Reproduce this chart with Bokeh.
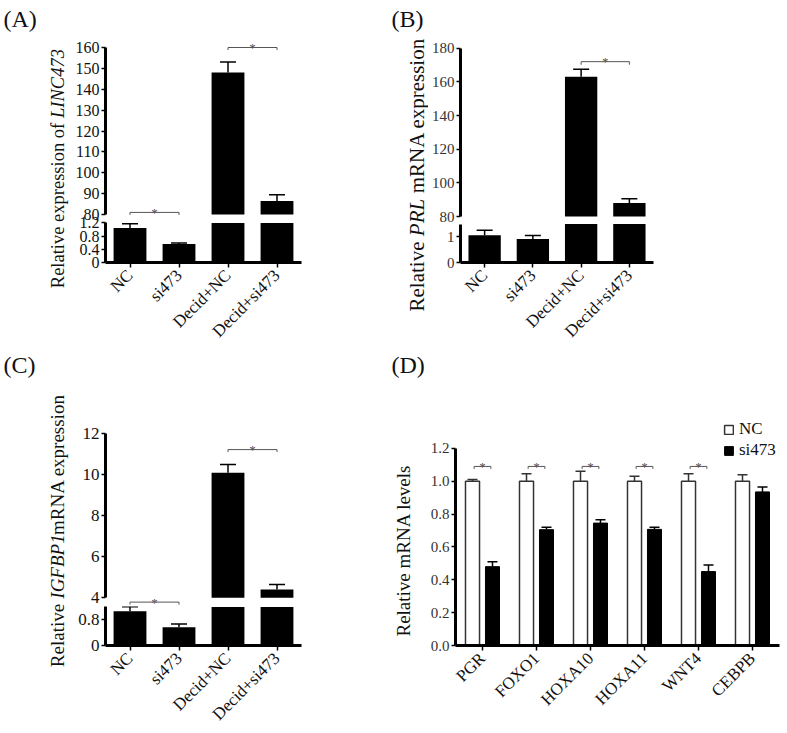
import math
from bokeh.plotting import figure
from bokeh.models import (ColumnDataSource, FactorRange, Range1d, FixedTicker, Whisker,
                          TeeHead, Legend, LegendItem, NumeralTickFormatter)
from bokeh.layouts import row, column
from bokeh.transform import dodge
from bokeh.core.properties import value
from bokeh.embed import file_html
from bokeh.resources import INLINE

SERIF = "Liberation Serif"
INK = "#111111"
SIGC = "#555555"

# ---------------- data ----------------
groups = ["NC", "si473", "Decid+NC", "Decid+si473"]

a_mean = [1.05, 0.56, 148.0, 86.5]
a_err = [0.13, 0.03, 5.0, 3.0]
a_lower_ticks = [0, 0.4, 0.8, 1.2]
a_lower_top = 1.2
a_upper_ticks = [80, 90, 100, 110, 120, 130, 140, 150, 160]
a_sig_left = ["NC", "Decid+NC"]
a_sig_right = ["si473", "Decid+si473"]
a_sig_y = [81.0, 160.0]

b_mean = [1.06, 0.92, 163.0, 88.0]
b_err = [0.20, 0.13, 4.5, 2.6]
b_lower_ticks = [0, 1]
b_lower_top = 1.5
b_upper_ticks = [80, 100, 120, 140, 160, 180]
b_sig_left = ["Decid+NC"]
b_sig_right = ["Decid+si473"]
b_sig_y = [172.0]

c_mean = [1.07, 0.57, 10.1, 4.4]
c_err = [0.14, 0.10, 0.4, 0.25]
c_lower_ticks = [0, 0.8]
c_lower_top = 1.2
c_upper_ticks = [4, 6, 8, 10, 12]
c_sig_left = ["NC", "Decid+NC"]
c_sig_right = ["si473", "Decid+si473"]
c_sig_y = [3.79, 11.23]

genes = ["PGR", "FOXO1", "HOXA10", "HOXA11", "WNT4", "CEBPB"]
d_nc = [1.0, 1.0, 1.0, 1.0, 1.0, 1.0]
d_nc_err = [0.01, 0.045, 0.06, 0.03, 0.045, 0.04]
d_si = [0.48, 0.705, 0.745, 0.707, 0.45, 0.935]
d_si_err = [0.03, 0.015, 0.02, 0.013, 0.04, 0.03]
d_ticks = [0.0, 0.2, 0.4, 0.6, 0.8, 1.0, 1.2]
d_sig_genes = ["PGR", "FOXO1", "HOXA10", "HOXA11", "WNT4"]
d_sig_y = [1.09, 1.09, 1.09, 1.09, 1.09]


# ---------------- helpers ----------------
def mkfig(xr, yr, w, h, bl, br, bt, bb, xaxis):
    p = figure(x_range=xr, y_range=yr, width=w, height=h, toolbar_location=None,
               output_backend="svg", min_border_left=bl, min_border_right=br,
               min_border_top=bt, min_border_bottom=bb,
               x_axis_location="below" if xaxis else None, title=None)
    p.grid.visible = False
    p.outline_line_color = None
    return p


def span(v1, p1, v2, p2, top_px, bot_px):
    """range (lo, hi) placing value v1 at pixel p1 and v2 at p2 for a frame top_px..bot_px"""
    k = (p1 - p2) / (v2 - v1)
    return (v1 - (bot_px - p1) / k, v1 + (p1 - top_px) / k)


def style_y(axis, ticks, bounds, size, color, overrides=None, fmt=None):
    axis.ticker = FixedTicker(ticks=ticks, minor_ticks=[])
    axis.bounds = bounds
    axis.axis_line_width = 3
    axis.axis_line_color = "black"
    axis.major_tick_line_width = 1.5
    axis.major_tick_line_color = "black"
    axis.major_tick_out = 4
    axis.major_tick_in = 0
    axis.minor_tick_line_color = None
    axis.major_label_text_font = SERIF
    axis.major_label_text_font_size = f"{size}px"
    axis.major_label_text_color = color
    axis.major_label_standoff = 2
    if overrides:
        axis.major_label_overrides = overrides
    if fmt is not None:
        axis.formatter = fmt


def style_x(axis, size, color):
    axis.axis_line_width = 3
    axis.axis_line_color = "black"
    axis.major_tick_line_width = 1.5
    axis.major_tick_out = 5
    axis.major_tick_in = 0
    axis.minor_tick_line_color = None
    axis.major_label_orientation = math.pi / 4
    axis.major_label_text_font = SERIF
    axis.major_label_text_font_size = f"{size}px"
    axis.major_label_text_color = color
    axis.major_label_standoff = 5


def broken_panel(means, errs, lower_top, lower_ticks, upper_ticks, sig_l, sig_r, sig_y,
                 sig_drop, geo, tick_size, tick_color, xlab_size, cap):
    # geo (page pixels): canvas top, upper canvas bottom, lower canvas top, canvas bottom,
    # upper frame top/bottom, lower frame top/bottom, pixel anchors of the tick ends
    (w, bl, br, c_top, up_cb, lo_ct, c_bot, uf_t, uf_b, lf_t, lf_b, lo_px, up_px) = geo
    xr = FactorRange(*groups)
    upper_lo = upper_ticks[0]
    up = mkfig(xr, Range1d(*span(upper_lo, up_px[0], upper_ticks[-1], up_px[1], uf_t, uf_b)),
               w, up_cb - c_top, bl, br, uf_t - c_top, up_cb - uf_b, False)
    lo = mkfig(xr, Range1d(*span(0, lo_px[0], lower_ticks[-1], lo_px[1], lf_t, lf_b)),
               w, c_bot - lo_ct, bl, br, lf_t - lo_ct, c_bot - lf_b, True)
    lo.margin = (lo_ct - up_cb, 0, 0, 0)        # overlap the two canvases at the break
    for f in (up, lo):
        f.border_fill_alpha = 0
        f.background_fill_alpha = 0

    # lower segment: every bar, cut at the break
    lo_src = ColumnDataSource(dict(g=groups, top=[min(m, lower_top) for m in means]))
    lo.vbar(x="g", top="top", bottom=0, width=0.67, source=lo_src,
            fill_color="black", line_color=None)
    lw = [i for i in range(len(groups)) if means[i] <= lower_top]
    lw_src = ColumnDataSource(dict(g=[groups[i] for i in lw], m=[means[i] for i in lw],
                                   u=[means[i] + errs[i] for i in lw]))
    lo.add_layout(Whisker(source=lw_src, base="g", lower="m", upper="u", dimension="height",
                          line_width=1.5, line_color="black",
                          upper_head=TeeHead(size=cap, line_width=1.5, line_color="black"),
                          lower_head=None))

    # upper segment
    ui = [i for i in range(len(groups)) if means[i] > upper_lo]
    up_src = ColumnDataSource(dict(g=[groups[i] for i in ui], m=[means[i] for i in ui],
                                   u=[means[i] + errs[i] for i in ui]))
    up.vbar(x="g", top="m", bottom=upper_lo, width=0.67, source=up_src,
            fill_color="black", line_color=None)
    up.add_layout(Whisker(source=up_src, base="g", lower="m", upper="u", dimension="height",
                          line_width=1.5, line_color="black",
                          upper_head=TeeHead(size=cap, line_width=1.5, line_color="black"),
                          lower_head=None))

    sig_src = ColumnDataSource(dict(l=sig_l, r=sig_r, y=sig_y, y2=[v - sig_drop for v in sig_y]))
    for (x0, y0, x1, y1) in [("l", "y", "r", "y"), ("l", "y", "l", "y2"), ("r", "y", "r", "y2")]:
        up.segment(x0=x0, y0=y0, x1=x1, y1=y1, source=sig_src, line_color=SIGC, line_width=1)
    up.text(x=dodge("l", 0.5, range=xr), y="y", text=value("*"), source=sig_src,
            text_font=value(SERIF), text_font_size="13px", text_color=SIGC,
            text_align="center", text_baseline="alphabetic", y_offset=0)

    style_y(up.yaxis[0], upper_ticks, (upper_ticks[0], upper_ticks[-1]), tick_size, tick_color)
    style_y(lo.yaxis[0], lower_ticks, (0, lower_top), tick_size, tick_color, overrides={0: "0"})
    style_x(lo.xaxis[0], xlab_size, INK)
    return column(up, lo)


def label_fig(x0, y0, w, h, items):
    p = figure(width=w, height=h, x_range=Range1d(0, w), y_range=Range1d(0, h),
               toolbar_location=None, output_backend="svg", min_border=0,
               x_axis_location=None, y_axis_location=None, title=None)
    p.grid.visible = False
    p.outline_line_color = None
    for (txt, px, py, angle, size, style, align) in items:
        p.text(x=[px - x0], y=[h - (py - y0)], text=[txt], angle=angle,
               text_font=value(SERIF), text_font_size=f"{size}px", text_font_style=style,
               text_align=align, text_baseline="middle", text_color=INK)
    return column(p)


R = math.pi / 2

# ---------------- panel A ----------------
lab_a = label_fig(0, 0, 70, 350, [
    ("(A)", 3, 18, 0, 24, "normal", "left"),
    ("Relative expression of", 57, 205, R, 18.5, "normal", "center"),
    ("LINC473", 57, 83, R, 18.5, "italic", "center"),
])
pan_a = broken_panel(a_mean, a_err, a_lower_top, a_lower_ticks, a_upper_ticks,
                     a_sig_left, a_sig_right, a_sig_y, 1.2,
                     (310, 35, 79, 0, 224, 213, 350, 34, 218, 222, 263, (263, 222.5), (214, 47)),
                     16, INK, 17, 16)

# ---------------- panel B ----------------
lab_b = label_fig(380, 0, 48, 350, [
    ("(B)", 391, 18, 0, 24, "normal", "left"),
    ("Relative", 416, 276, R, 21, "normal", "center"),
    ("PRL", 416, 217, R, 21, "italic", "center"),
    ("mRNA expression", 416, 115, R, 21, "normal", "center"),
])
pan_b = broken_panel(b_mean, b_err, b_lower_top, b_lower_ticks, b_upper_ticks,
                     b_sig_left, b_sig_right, b_sig_y, 1.8,
                     (359, 28, 134, 0, 226, 218, 350, 44, 219, 223, 263, (263, 236.7), (216, 47.7)),
                     15, "#333333", 17, 16)

# ---------------- panel C ----------------
lab_c = label_fig(0, 350, 70, 383, [
    ("(C)", 3, 364, 0, 24, "normal", "left"),
    ("Relative", 57, 635, R, 19, "normal", "center"),
    ("IGFBP1", 57, 566, R, 19, "italic", "center"),
    ("mRNA expression", 57, 464, R, 19, "normal", "center"),
])
pan_c = broken_panel(c_mean, c_err, c_lower_top, c_lower_ticks, c_upper_ticks,
                     c_sig_left, c_sig_right, c_sig_y, 0.12,
                     (310, 35, 79, 350, 609, 606, 733, 428, 605, 606, 645, (645, 619.3), (597.3, 433.3)),
                     17, INK, 17, 16)

# ---------------- panel D ----------------
lab_d = label_fig(380, 350, 45, 383, [
    ("(D)", 391, 364, 0, 24, "normal", "left"),
    ("Relative mRNA levels", 403, 550, R, 19, "normal", "center"),
])
xd = FactorRange(*genes)
pd_ = mkfig(xd, Range1d(0, 1.4), 362, 383, 30, 8, 65, 88, True)
d_src = ColumnDataSource(dict(g=genes, nc=d_nc, nc_u=[m + e for m, e in zip(d_nc, d_nc_err)],
                              si=d_si, si_u=[m + e for m, e in zip(d_si, d_si_err)]))
OFF = 0.185
r_nc = pd_.vbar(x=dodge("g", -OFF, range=xd), top="nc", bottom=0, width=0.26, source=d_src,
                fill_color="white", line_color="#333333", line_width=1.5)
r_si = pd_.vbar(x=dodge("g", OFF, range=xd), top="si", bottom=0, width=0.26, source=d_src,
                fill_color="black", line_color="black", line_width=1)
pd_.add_layout(Whisker(source=d_src, base=dodge("g", -OFF, range=xd), lower="nc", upper="nc_u",
                       dimension="height", line_width=1.5, line_color="#333333",
                       upper_head=TeeHead(size=10, line_width=1.5, line_color="#333333"),
                       lower_head=None))
pd_.add_layout(Whisker(source=d_src, base=dodge("g", OFF, range=xd), lower="si", upper="si_u",
                       dimension="height", line_width=1.5, line_color="black",
                       upper_head=TeeHead(size=10, line_width=1.5, line_color="black"),
                       lower_head=None))
d_sig = ColumnDataSource(dict(g=d_sig_genes, y=d_sig_y, y2=[v - 0.015 for v in d_sig_y]))
BO = 0.155
for (x0, y0, x1, y1) in [(-BO, "y", BO, "y"), (-BO, "y", -BO, "y2"), (BO, "y", BO, "y2")]:
    pd_.segment(x0=dodge("g", x0, range=xd), y0=y0, x1=dodge("g", x1, range=xd), y1=y1,
                source=d_sig, line_color=SIGC, line_width=1)
pd_.text(x="g", y="y", text=value("*"), source=d_sig, text_font=value(SERIF),
         text_font_size="13px", text_color=SIGC, text_align="center",
         text_baseline="alphabetic", y_offset=0)
style_y(pd_.yaxis[0], d_ticks, (0, 1.2), 15, "#333333", fmt=NumeralTickFormatter(format="0.0"))
style_x(pd_.xaxis[0], 17, INK)
leg = Legend(items=[LegendItem(label="NC", renderers=[r_nc]),
                    LegendItem(label="si473", renderers=[r_si])],
             location=(268, 185), margin=0, padding=0, spacing=1,
             glyph_width=11, glyph_height=11, label_height=17, label_standoff=5,
             label_text_font=SERIF, label_text_font_size="17px", label_text_color=INK,
             border_line_color=None, background_fill_alpha=0)
pd_.add_layout(leg)

layout = column(row(lab_a, pan_a, lab_b, pan_b), row(lab_c, pan_c, lab_d, column(pd_)))

open("out.html", "w").write(file_html(layout, INLINE))
